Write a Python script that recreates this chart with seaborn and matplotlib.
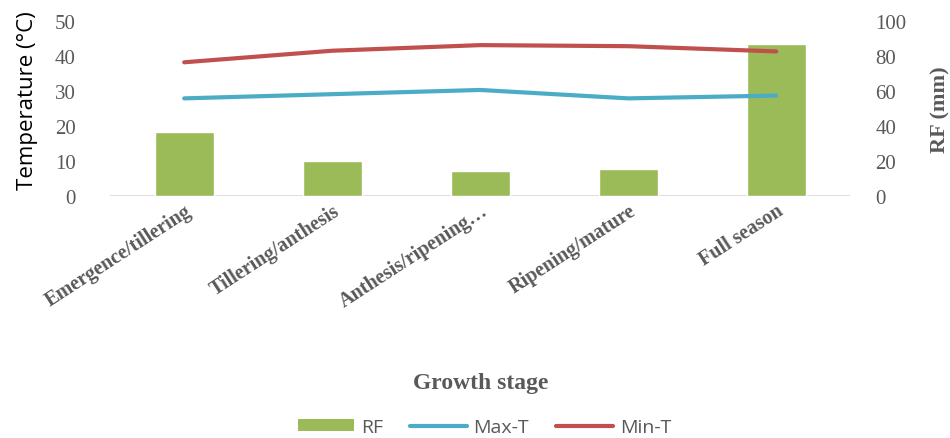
import matplotlib
matplotlib.use("Agg")
import matplotlib.pyplot as plt
from matplotlib.patches import Patch
from matplotlib.lines import Line2D
import numpy as np
import pandas as pd
import seaborn as sns

stages = ["Emergence/tillering", "Tillering/anthesis", "Anthesis/ripening…",
          "Ripening/mature", "Full season"]
rf_mm = [36.4, 19.8, 14.5, 15.4, 86.9]
max_t = [27.9, 29.1, 30.3, 27.9, 28.7]
min_t = [38.2, 41.5, 43.1, 42.8, 41.3]
temp_ticks = [0, 10, 20, 30, 40, 50]
rf_ticks = [0, 20, 40, 60, 80, 100]

GREEN = "#9BBB59"
BLUE = "#4BACC6"
RED = "#C0504D"
GREY = "#595959"
SANS = ["Open Sans", "DejaVu Sans"]

sns.set_theme(style="white")
plt.rcParams["font.family"] = ["Liberation Serif", "DejaVu Serif"]

fig = plt.figure(figsize=(9.5, 4.39), dpi=100)
ax_rf = fig.add_axes([0.116, 0.551, 0.779, 0.399])
ax_t = ax_rf.twinx()

df = pd.DataFrame({"stage": stages, "RF": rf_mm, "Max-T": max_t, "Min-T": min_t})
df["pos"] = np.arange(len(stages))

# rainfall bars (right axis)
sns.barplot(data=df, x="stage", y="RF", color=GREEN, width=0.4,
            saturation=1, ax=ax_rf, zorder=2)
ax_rf.set_ylim(0, 100)
ax_rf.set_xlim(-0.5, len(stages) - 0.5)
ax_rf.yaxis.tick_right()
ax_rf.yaxis.set_label_position("right")
ax_rf.set_yticks(rf_ticks)
ax_rf.set_ylabel("RF (mm)", fontsize=16, fontweight="bold", color=GREY)
ax_rf.yaxis.set_label_coords(1.109, 0.5)
ax_rf.set_xlabel("Growth stage", fontsize=17, fontweight="bold", color=GREY)
ax_rf.xaxis.set_label_coords(0.5, -1.006)
ax_rf.tick_params(axis="y", labelsize=15, labelcolor=GREY, length=0, pad=18)
ax_rf.tick_params(axis="x", length=0, pad=3)
for lbl in ax_rf.get_xticklabels():
    lbl.set_rotation(33)
    lbl.set_ha("right")
    lbl.set_rotation_mode("anchor")
    lbl.set_fontsize(14.5)
    lbl.set_fontweight("bold")
    lbl.set_color(GREY)

# temperature lines (left axis)
sns.lineplot(data=df, x="pos", y="Max-T", color=BLUE, linewidth=3, ax=ax_t)
sns.lineplot(data=df, x="pos", y="Min-T", color=RED, linewidth=3, ax=ax_t)
ax_t.set_ylim(0, 50)
ax_t.set_xlim(-0.5, len(stages) - 0.5)
ax_t.yaxis.tick_left()
ax_t.yaxis.set_label_position("left")
ax_t.set_yticks(temp_ticks)
ax_t.set_ylabel("Temperature (°C)", fontsize=16, family=SANS, color="black")
ax_t.yaxis.set_label_coords(-0.097, 0.55)
ax_t.tick_params(axis="y", labelsize=15, labelcolor=GREY, length=0, pad=25)

for a in (ax_rf, ax_t):
    for s in a.spines.values():
        s.set_visible(False)
    a.grid(False)
ax_rf.axhline(0, color="#D9D9D9", linewidth=2, zorder=1)

handles = [Patch(facecolor=GREEN, edgecolor="none"),
           Line2D([], [], color=BLUE, linewidth=3),
           Line2D([], [], color=RED, linewidth=3)]
fig.legend(handles, ["RF", "Max-T", "Min-T"], loc="center", bbox_to_anchor=(0.51, 0.025),
           ncol=3, frameon=False, handlelength=2.9, handleheight=0.55,
           columnspacing=1.4, handletextpad=0.35,
           prop={"family": SANS, "size": 14}, labelcolor=GREY)

fig.savefig("out.png", dpi=100)
